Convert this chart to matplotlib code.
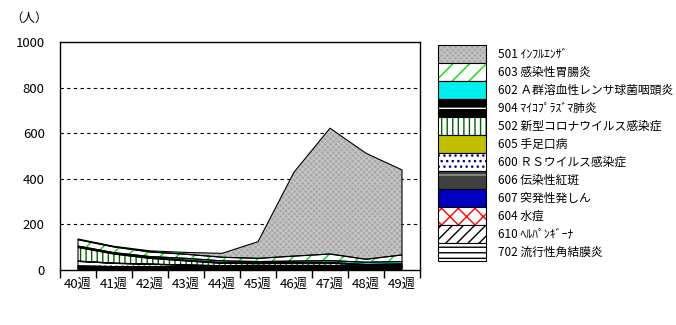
import matplotlib
matplotlib.use("Agg")
import matplotlib.pyplot as plt
import numpy as np
from matplotlib.patches import Rectangle

plt.rcParams["font.family"] = ["Noto Sans CJK JP", "DejaVu Sans"]
plt.rcParams["hatch.linewidth"] = 1.0

weeks = ["40週", "41週", "42週", "43週", "44週", "45週", "46週", "47週", "48週", "49週"]

# bottom of the stack first
v702 = [6, 5, 5, 5, 5, 7, 8, 8, 6, 8]
v610 = [4, 3, 3, 3, 2, 2, 2, 2, 2, 2]
v604 = [2, 2, 2, 2, 2, 2, 2, 2, 2, 2]
v607 = [2, 2, 2, 2, 2, 2, 2, 2, 2, 2]
v606 = [4, 3, 3, 2, 2, 2, 2, 2, 1, 1]
v600 = [20, 14, 10, 7, 5, 4, 3, 3, 2, 2]
v605 = [1, 1, 1, 1, 1, 1, 1, 1, 1, 1]
v502 = [60, 40, 25, 18, 10, 8, 10, 10, 5, 6]
v904 = [4, 3, 3, 3, 3, 3, 3, 3, 3, 3]
v602 = [2, 3, 5, 8, 8, 6, 6, 8, 10, 10]
v603 = [28, 25, 20, 18, 16, 14, 22, 29, 13, 29]
v501 = [3, 3, 5, 8, 17, 73, 368, 552, 465, 373]

labels = ["702 流行性角結膜炎", "610 ﾍﾙﾊﾟﾝｷﾞｰﾅ", "604 水痘", "607 突発性発しん",
          "606 伝染性紅斑", "600 ＲＳウイルス感染症", "605 手足口病",
          "502 新型コロナウイルス感染症", "904 ﾏｲｺﾌﾟﾗｽﾞﾏ肺炎",
          "602 Ａ群溶血性レンサ球菌咽頭炎", "603 感染性胃腸炎", "501 ｲﾝﾌﾙｴﾝｻﾞ"]
series = [v702, v610, v604, v607, v606, v600, v605, v502, v904, v602, v603, v501]

# (face, hatch, hatch colour)
styles = [
    ("white", "---", "black"),
    ("white", "///", "black"),
    ("white", "xx", "#ff0000"),
    ("#0000c0", None, "black"),
    ("#404040", "-", "#a0a0a0"),
    ("white", "...", "#000080"),
    ("#c0c000", None, "black"),
    ("white", "|||", "#006000"),
    ("black", "-", "white"),
    ("#00f0f0", None, "black"),
    ("white", "//", "#00e000"),
    ("#a8a8a8", "xxxxxx", "#c4c4c4"),
]

fig = plt.figure(figsize=(6.76, 3.25), dpi=100)
ax = fig.add_axes([60 / 676, 55 / 325, 360 / 676, 228 / 325])

x = np.arange(len(weeks))
base = np.zeros(len(weeks))
for vals, (fc, hatch, hc) in zip(series, styles):
    top = base + np.array(vals, dtype=float)
    ax.fill_between(x, base, top, facecolor=fc, edgecolor=hc, hatch=hatch,
                    linewidth=0, zorder=2)
    ax.fill_between(x, base, top, facecolor="none", edgecolor="black",
                    linewidth=0.8, zorder=3)
    base = top

ax.set_xlim(-0.5, 9.5)
ax.set_ylim(0, 1000)
ax.set_yticks(range(0, 1001, 200))
ax.tick_params(axis="y", length=0, pad=11, labelsize=9.5)
ax.set_xticks(x)
ax.set_xticklabels(weeks, fontsize=9.5)
ax.set_xticks(np.arange(-0.5, 10, 1), minor=True)
ax.tick_params(axis="x", which="major", length=0, pad=6)
ax.tick_params(axis="x", which="minor", length=6, width=1, direction="out")
for yv in range(200, 1000, 200):
    ax.axhline(yv, color="black", lw=0.8, ls=(0, (3, 3)), zorder=1)
for s in ax.spines.values():
    s.set_linewidth(1)

fig.text(29 / 676, 1 - 18 / 325, "（人）", ha="center", va="center", fontsize=9)

# legend drawn by hand, top entry = top of stack
lax = fig.add_axes([0, 0, 1, 1])
lax.set_xlim(0, 676)
lax.set_ylim(325, 0)
lax.axis("off")
row_h = 18
y0 = 45
for i, (lab, (fc, hatch, hc)) in enumerate(zip(labels[::-1], styles[::-1])):
    yy = y0 + i * row_h
    lax.add_patch(Rectangle((438, yy), 48, row_h, facecolor=fc, edgecolor=hc,
                            hatch=hatch, linewidth=0))
    lax.add_patch(Rectangle((438, yy), 48, row_h, facecolor="none",
                            edgecolor="black", linewidth=0.8))
    lax.text(498, yy + row_h / 2, lab, ha="left", va="center", fontsize=8.5)

fig.savefig("out.png", dpi=100)
